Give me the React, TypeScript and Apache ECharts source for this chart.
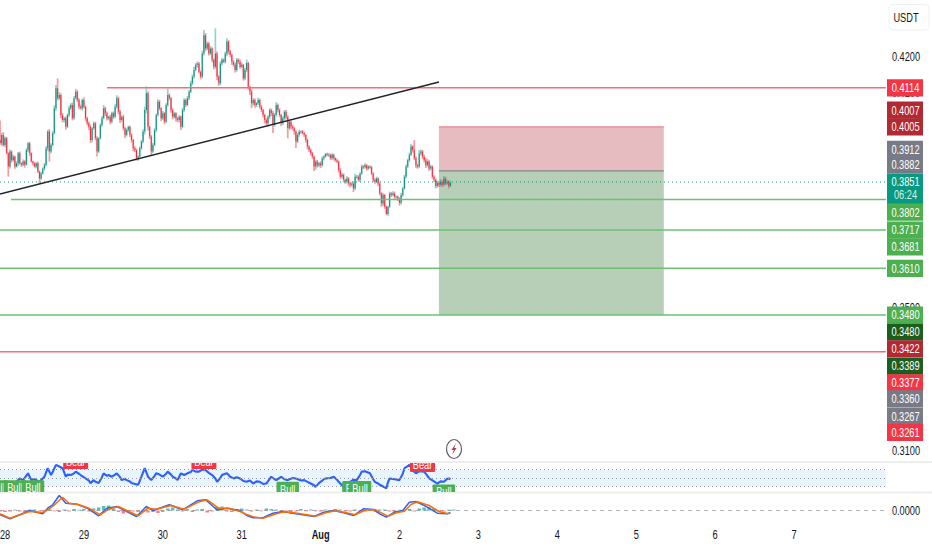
import React, { useEffect, useRef } from "react";
import * as echarts from "echarts";

const FONT = '"Liberation Sans", sans-serif';
const NARROW = 0.77;

const tickLabels = ["28", "29", "30", "31", "Aug", "2", "3", "4", "5", "6", "7"];
const priceTicks = [0.42, 0.41, 0.35, 0.31];
const zeroTicks = [0];

const firstOpen = 0.3968;
const closes = [
  .3959,.3982,.3954,.3973,.3931,.3894,.3936,.3912,.3922,.3894,.3903,.3931,
  .3903,.3899,.3908,.3899,.3940,.3959,.3931,.3908,.3903,.3894,.3903,.3880,
  .3861,.3875,.3889,.3899,.3945,.3992,.3936,.3954,.3987,.4057,.4113,.4085,
  .4094,.4038,.4024,.4029,.4005,.4038,.4057,.4066,.4029,.4085,.4103,.4080,
  .4061,.4057,.4080,.4061,.4029,.4015,.4005,.3968,.4001,.4015,.3973,.3936,
  .3973,.4010,.4029,.4057,.4043,.4029,.4033,.4019,.4043,.4033,.4061,.4085,
  .4047,.4024,.4033,.4001,.3982,.3996,.4005,.3982,.3968,.3945,.3940,.3917,
  .3922,.3945,.3964,.3992,.4052,.4099,.4005,.3978,.3936,.3954,.3996,.4038,
  .4075,.4057,.4029,.4043,.4019,.4066,.4094,.4085,.4052,.4033,.4043,.4029,
  .4024,.4033,.4005,.4052,.4080,.4066,.4085,.4103,.4127,.4145,.4164,.4178,
  .4182,.4159,.4145,.4210,.4261,.4224,.4238,.4210,.4224,.4192,.4173,.4210,
  .4145,.4127,.4182,.4192,.4187,.4210,.4243,.4215,.4206,.4187,.4178,.4164,
  .4192,.4187,.4173,.4178,.4140,.4164,.4183,.4117,.4104,.4071,.4080,.4066,
  .4071,.4080,.4061,.4052,.4038,.4024,.4015,.4033,.4052,.4043,.4010,.4038,
  .4066,.4052,.4038,.4015,.4029,.4047,.4033,.4001,.4019,.4006,.4001,.3992,
  .3964,.3982,.3992,.3992,.3987,.3982,.3968,.3950,.3940,.3931,.3922,.3894,
  .3908,.3898,.3903,.3898,.3917,.3922,.3929,.3927,.3927,.3917,.3927,.3917,
  .3912,.3908,.3884,.3866,.3871,.3857,.3852,.3861,.3847,.3843,.3847,.3833,
  .3866,.3866,.3857,.3875,.3894,.3892,.3898,.3889,.3894,.3892,.3875,.3857,
  .3852,.3861,.3847,.3819,.3791,.3815,.3782,.3762,.3782,.3819,.3815,.3819,
  .3810,.3810,.3805,.3793,.3815,.3833,.3866,.3894,.3912,.3927,.3950,.3940,
  .3917,.3898,.3894,.3931,.3936,.3922,.3912,.3898,.3908,.3889,.3894,.3866,
  .3857,.3840,.3849,.3843,.3852,.3843,.3861,.3847,.3852,.3840,.3849,
];
// wick lengths above / below the candle body, in ten-thousandths of a USDT
const wickUp = [
  55,6,8,5,4,3,6,3,5,2,6,4, 5,3,6,4,5,3,4,3,2,4,3,5, 3,4,3,5,6,4,7,5,6,8,9,27,
  8,5,6,4,5,4,6,5,7,6,8,4, 5,6,4,7,3,4,5,6,3,5,4,6, 3,5,6,9,4,5,3,6,4,5,7,8,
  4,5,3,6,4,5,3,4,5,3,6,4, 3,5,4,6,9,19,5,3,4,6,5,4, 7,5,3,6,4,5,18,4,3,5,4,3,
  4,5,3,6,5,4,6,5,7,6,8,5, 6,4,3,7,14,6,5,4,7,3,4,70, 5,4,6,5,4,5,9,4,5,3,4,6,
  5,4,6,7,3,5,10,4,3,5,5,4, 3,6,4,5,3,4,5,4,5,4,7,6, 8,4,5,3,6,5,5,4,6,3,5,4,
  3,6,5,3,4,5,3,4,3,5,4,3, 4,5,3,6,5,4,3,4,5,3,4,3, 3,4,3,6,5,4,3,6,4,5,3,6,
  8,5,4,3,6,4,5,3,4,3,4,3, 4,5,3,3,4,5,3,3,2,5,4,6, 5,4,3,3,5,4,5,6,4,6,8,4,
  28,5,4,9,6,4,5,6,7,4,5,3, 4,3,6,5,8,4,7,5,6,4,5,
];
const wickDown = [
  5,8,4,6,3,28,5,7,4,6,3,8, 4,6,3,8,2,5,7,3,6,3,5,4, 15,4,3,6,5,8,28,5,4,3,7,6,
  5,9,6,7,8,3,5,4,6,4,3,6, 6,4,7,5,8,6,9,8,5,4,6,14, 4,3,5,3,8,6,5,7,4,6,3,5,
  7,8,5,6,9,4,5,6,7,8,5,6, 7,3,4,5,8,9,10,7,12,5,3,6, 4,6,8,5,7,3,5,6,8,7,5,9,
  6,7,9,4,5,6,3,5,4,6,5,4, 8,5,7,4,6,8,5,6,5,7,8,6, 10,8,5,6,4,5,7,8,6,9,5,7,
  5,7,6,4,6,5,6,8,10,14,7,8, 6,4,5,6,7,9,5,10,6,8,22,5, 4,7,6,8,5,6,7,28,5,7,6,9,
  18,4,5,6,3,5,7,8,5,6,7,12, 9,7,5,8,4,5,3,4,6,5,4,6, 5,4,7,6,5,7,6,5,8,7,5,10,
  4,6,5,6,4,5,3,6,5,4,5,6, 6,4,8,6,9,7,6,4,5,3,6,4, 6,5,7,8,4,5,3,5,4,5,3,7,
  5,8,6,4,5,7,6,8,5,7,5,6, 6,7,5,6,5,6,4,5,4,7,3,
];

const rsiBars = [0,2,4,7,10,12,14,17,19,21,24,27,29,31,32,34,36,38,40,41,43,45,46,48,49,52,54,55,57,58,60,62,63,65,66,68,70,71,73,74,76,77,79,80,82,84,86,88,90,91,92,94,95,97,99,101,102,104,105,107,108,110,112,114,116,117,119,121,123,125,127,129,131,132,134,135,137,138,140,142,144,146,148,150,152,154,156,158,160,162,164,165,167,168,170,171,173,175,178,180,183,185,187,189,191,192,194,195,197,198,201,203,205,206,208,209,211,213,215,217,219,220,222,225,227,228,230,231,233,235,236,237,240,243,245,246,248,249,251,253,255,258,260,261,264,266,268,270,272,273,274];
const rsiValues = [41,37,41,39,41,49,45,61,45,47,41,53,73,57,64,81,77,73,53,58,57,61,65,60,57,49,44,38,45,41,38,52,61,55,57,53,58,61,52,45,48,45,42,38,36,34,53,73,53,49,45,55,61,58,53,60,65,58,53,49,45,61,57,61,64,69,65,65,70,69,62,57,49,41,50,57,60,61,53,49,52,49,43,41,44,37,42,41,36,37,48,53,47,45,50,53,47,45,50,49,44,45,41,37,33,29,38,41,47,49,50,53,46,41,33,29,38,41,46,45,57,65,66,61,47,41,37,34,30,26,40,49,47,45,60,73,78,81,68,61,66,65,55,49,42,37,42,41,48,49,47];

const macdBars = [0,6,12,18,26,29,32,36,40,47,53,60,65,71,76,83,89,93,103,111,120,125,132,138,146,150,154,160,166,172,180,191,197,203,209,215,221,227,231,235,240,245,249,253,260,266,272,274];
const macdValues = [-4.3,-8.3,-4.3,0,-3.3,2.3,5.7,15,7.3,6.3,2.3,-5.3,2.3,4,0,-6,4,0,5.7,0.7,9.7,10.7,0.7,2.3,0,-5,-7.3,-7.3,-2.7,-1,-3.3,-6,-1.7,0,-2.3,-5,1.7,1,-3.3,-6.7,-1.7,0,8.3,9,3.3,-2.7,-3.3,-2.3];
const signalBars = [0,6,12,18,26,29,32,38,42,48,54,61,66,72,77,84,90,95,104,112,121,126,133,139,146,150,154,160,167,173,181,192,198,204,210,216,222,228,232,236,241,246,250,254,261,267,272,274];
const signalValues = [-3.3,-7.7,-4.3,-1,-2,0.7,4,13.3,7.3,5.7,2.3,-4.3,1.3,4,0,-5.3,2.3,1.3,5,1.3,8.7,10.7,2.3,2.3,-1,-4,-6.3,-7.7,-3.7,-1.3,-2.7,-5.7,-2.3,-0.3,-2,-4.3,0.3,1,-2.3,-5.7,-2.3,-0.7,6,8.7,5,-1,-3,-2.7];
// one histogram value for every third bar
const histValues = [-1,-1.5,-1,0.8,-1,-1.5,0.8,1,-0.8,-1,1,-0.8,-1.5,1,-1,1.5,0.8,1.5,-1,2,3,4.5,5,2,-1.5,-3,-2,-1,-1.5,-1,-2,-1.5,-2.5,-1.5,2,3,1,-1,1.5,-1.5,1,1.5,-2,-1,3.5,4,-1,-1.5,1.5,2,1,-1,1,-0.8,2,1.5,1,-1,-1.5,-3,-1,1.5,-0.8,1,-0.8,-1,1,-1,1.5,1,-1,-1,1,-0.8,-1,1,-0.8,1,1,-1,-1.5,0.8,1,1.5,-1,2,3,3,2,-1,-1,0.8,1];

const signalKinds = ["Bull","Bull","Bull","Bear","Bear","Bull","Bull","Bull","Bear","Bull"];
const signalBarsAt = [-2,9,20,46,124,175,215,219,257,270];
const signalLevels = [45,45,45,71,71,41,43,43,64,35];

const levelPrices = { resistance: 0.4114, stop: 0.4005, entry: 0.3882, last: 0.3851, tp1: 0.3802, tp2: 0.3717, tp3: 0.361, tp4: 0.348, floor: 0.3377 };
const trendDays = [-0.0634, 5.5];
const trendPrices = [0.38175, 0.41302];
const boxDays = [5.5, 8.35];

const tagValues = [0.4114,0.4007,0.4005,0.3912,0.3882,0.3851,0.3802,0.3717,0.3681,0.361,0.348,0.348,0.3422,0.3389,0.3377,0.336,0.3267,0.3261];
const tagColors = ["#f23645","#b22833","#b22833","#787b86","#787b86","#089981","#4caf50","#4caf50","#4caf50","#4caf50","#4caf50","#1b5e20","#b22833","#1b5e20","#f23645","#787b86","#787b86","#f23645"];
// tags are pushed apart by the price scale so that they do not overlap
const tagNudges = [0,-16,0,-11,-6,0,12.5,0,4,0,0,17,13,18.5,31,41,25,39];
const countdown = "06:24";

const xMin = -0.0634;
const xMax = 11.166;
const barDay = (i: number) => -0.0625 + i / 48;

const narrowText = (x: number, y: number, text: string, fill: string, fontSize = 12, fontWeight: any = "normal") => ({
  type: "text", x, y, scaleX: NARROW,
  style: { x: 0, y: 0, text, fontSize, fontWeight, fontFamily: FONT, fill, align: "center", verticalAlign: "middle" },
});

function App() {
  const ref = useRef<HTMLDivElement>(null);
  useEffect(() => {
    document.body.style.margin = "0";
    const chart = echarts.init(ref.current!, undefined, { renderer: "svg" });
    const candles = closes.map((c, i) => {
      const o = i === 0 ? firstOpen : closes[i - 1];
      return [barDay(i), o, c, Math.max(o, c) + wickUp[i] / 10000, Math.min(o, c) - wickDown[i] / 10000];
    });
    const level = (name: string, from: number, to: number, p: number, color: string, type: any = "solid", width = 1.5) => ({
      name, type: "line", xAxisIndex: 0, yAxisIndex: 0, symbol: "none", silent: true, z: 3,
      data: [[from, p], [to, p]], lineStyle: { color, width, type },
    });
    const option: any = {
      animation: false,
      backgroundColor: "#ffffff",
      textStyle: { fontFamily: FONT },
      grid: [
        { left: 0, top: 0, width: 886, height: 462 },
        { left: 0, top: 463, width: 886, height: 29 },
        { left: 0, top: 493, width: 886, height: 30 },
      ],
      xAxis: [0, 1, 2].map((g) => ({
        type: "value", gridIndex: g, min: xMin, max: xMax, show: false, splitLine: { show: false },
      })),
      yAxis: [
        { type: "value", gridIndex: 0, position: "right", min: 0.30693, max: 0.43591, show: false, splitLine: { show: false } },
        { type: "value", gridIndex: 1, position: "right", min: 17.06, max: 85.3, show: false, splitLine: { show: false } },
        { type: "value", gridIndex: 2, position: "right", min: -12.5, max: 17.5, show: false, splitLine: { show: false } },
      ],
      graphic: [
        { type: "line", shape: { x1: 0, y1: 462, x2: 932, y2: 462 }, style: { stroke: "#eceded", lineWidth: 2 } },
        { type: "line", shape: { x1: 0, y1: 492.5, x2: 932, y2: 492.5 }, style: { stroke: "#eceded", lineWidth: 2 } },
        { type: "rect", shape: { x: 889, y: 4.5, width: 40, height: 25.5, r: 4 }, style: { fill: "#fff", stroke: "#eef0f3", lineWidth: 1 } },
        { type: "text", x: 906, y: 17.5, scaleX: NARROW, style: { x: 0, y: 0, text: "USDT", fontSize: 12, fontFamily: FONT, fill: "#131722", align: "center", verticalAlign: "middle" } },
        { type: "ellipse", shape: { cx: 454, cy: 449, rx: 7.5, ry: 9.5 }, style: { fill: "#fff", stroke: "#6b5a66", lineWidth: 1.2 } },
        { type: "polygon", shape: { points: [[456,443],[451.5,450],[453.8,450],[452,455],[456.5,448],[454.2,448]] }, style: { fill: "#a8404e" } },
      ],
      series: [
        {
          name: "box", type: "line", xAxisIndex: 0, yAxisIndex: 0, data: [], silent: true, z: 1,
          markArea: {
            silent: true,
            data: [
              [{ coord: [boxDays[0], levelPrices.stop], itemStyle: { color: "rgba(172,32,45,0.3)" } }, { coord: [boxDays[1], levelPrices.entry] }],
              [{ coord: [boxDays[0], levelPrices.entry], itemStyle: { color: "rgba(15,95,15,0.3)" } }, { coord: [boxDays[1], levelPrices.tp4] }],
            ],
          },
        },
        level("last", xMin, xMax, levelPrices.last, "#089981", [1, 3], 1),
        level("resistance", 1.293, xMax, levelPrices.resistance, "#f26f79"),
        level("tp1", 0.076, xMax, levelPrices.tp1, "#6cc070"),
        level("tp2", xMin, xMax, levelPrices.tp2, "#6cc070"),
        level("tp3", xMin, xMax, levelPrices.tp3, "#6cc070"),
        level("tp4", xMin, xMax, levelPrices.tp4, "#6cc070"),
        level("floor", xMin, xMax, levelPrices.floor, "#f26f79"),
        level("stop", boxDays[0], boxDays[1], levelPrices.stop, "#e58a92", "solid", 1.2),
        level("entry", boxDays[0], boxDays[1], levelPrices.entry, "#7f8a8a", "solid", 1.2),
        {
          name: "trend", type: "line", xAxisIndex: 0, yAxisIndex: 0, symbol: "none", silent: true, z: 4,
          data: trendDays.map((d, i) => [d, trendPrices[i]]), lineStyle: { color: "#22242c", width: 1.4 },
        },
        {
          name: "candles", type: "custom", xAxisIndex: 0, yAxisIndex: 0, z: 3, silent: true, clip: true,
          data: candles, encode: { x: 0, y: [1, 2, 3, 4] },
          renderItem: (_p: any, api: any) => {
            const t = api.value(0), o = api.value(1), c = api.value(2), h = api.value(3), l = api.value(4);
            const top = api.coord([t, Math.max(o, c)]);
            const bot = api.coord([t, Math.min(o, c)]);
            const hi = api.coord([t, h]);
            const lo = api.coord([t, l]);
            const up = c >= o;
            const solid = up ? "#0c8a76" : "#ef2c3e";
            const pale = up ? "rgba(38,166,154,0.5)" : "rgba(242,54,69,0.5)";
            return {
              type: "group",
              children: [
                { type: "line", shape: { x1: top[0], y1: hi[1], x2: top[0], y2: lo[1] }, style: { stroke: pale, lineWidth: 1.7 } },
                { type: "rect", shape: { x: top[0] - 0.5, y: top[1], width: 1, height: Math.max(0.8, bot[1] - top[1]) }, style: { fill: solid } },
              ],
            };
          },
        },
        {
          name: "rsi", type: "line", xAxisIndex: 1, yAxisIndex: 1, symbol: "none", silent: true, z: 4,
          data: rsiBars.map((b, i) => [barDay(b), rsiValues[i]]), lineStyle: { color: "#2962ff", width: 2.1 },
          markArea: { silent: true, itemStyle: { color: "rgba(33,150,243,0.1)" }, data: [[{ coord: [xMin, 70] }, { coord: [xMax, 30] }]] },
          markLine: {
            silent: true, symbol: "none", label: { show: false },
            data: [{ yAxis: 70 }, { yAxis: 50 }, { yAxis: 30 }],
            lineStyle: { color: "#9598a1", type: [1, 3], width: 1 },
          },
        },
        {
          name: "signals", type: "custom", xAxisIndex: 1, yAxisIndex: 1, z: 5, silent: true, clip: true,
          data: signalBarsAt.map((b, i) => [barDay(b), signalLevels[i]]), encode: { x: 0, y: 1 },
          renderItem: (p: any, api: any) => {
            const pt = api.coord([api.value(0), api.value(1)]);
            const bull = signalKinds[p.dataIndex] === "Bull";
            const y = bull ? pt[1] : pt[1] - 15;
            const w = bull ? 22.5 : 25;
            return {
              type: "group",
              children: [
                { type: "rect", shape: { x: pt[0] - w / 2, y, width: w, height: 15, r: 1 }, style: { fill: bull ? "#4caf50" : "#f23645" } },
                narrowText(pt[0], y + 7.5, signalKinds[p.dataIndex], "#fff", 12),
              ],
            };
          },
        },
        {
          name: "zero", type: "line", xAxisIndex: 2, yAxisIndex: 2, symbol: "none", silent: true, z: 1,
          data: [[xMin, 0], [xMax, 0]], lineStyle: { color: "#b2b5be", width: 1, type: [4, 4] },
        },
        {
          name: "hist", type: "bar", xAxisIndex: 2, yAxisIndex: 2, barWidth: 3.5, silent: true, z: 2,
          data: histValues.map((v, i) => ({
            value: [barDay(i * 3), v],
            itemStyle: { color: v >= 0 ? "rgba(38,166,154,0.75)" : "rgba(255,82,82,0.75)" },
          })),
        },
        {
          name: "macd", type: "line", xAxisIndex: 2, yAxisIndex: 2, symbol: "none", silent: true, z: 3,
          data: macdBars.map((b, i) => [barDay(b), macdValues[i]]), lineStyle: { color: "#2962ff", width: 1.5 },
        },
        {
          name: "signal", type: "line", xAxisIndex: 2, yAxisIndex: 2, symbol: "none", silent: true, z: 4,
          data: signalBars.map((b, i) => [barDay(b), signalValues[i]]), lineStyle: { color: "#ff6d00", width: 1.5 },
        },
        {
          name: "timeTicks", type: "custom", xAxisIndex: 2, yAxisIndex: 2, z: 6, silent: true, clip: false,
          data: tickLabels.map((_, i) => [i, -12.5]), encode: { x: 0, y: 1 },
          renderItem: (p: any, api: any) => {
            const pt = api.coord([api.value(0), api.value(1)]);
            const t = tickLabels[p.dataIndex];
            return narrowText(pt[0], pt[1] + 12, t, "#131722", 12, t === "Aug" ? "bold" : "normal");
          },
        },
        {
          name: "priceTicks", type: "custom", xAxisIndex: 0, yAxisIndex: 0, z: 2, silent: true, clip: false,
          data: priceTicks.map((v) => [xMin, v]), encode: { x: 0, y: 1 },
          renderItem: (p: any, api: any) => {
            const pt = api.coord([xMin, priceTicks[p.dataIndex]]);
            return narrowText(906, pt[1], priceTicks[p.dataIndex].toFixed(4), "#131722");
          },
        },
        {
          name: "zeroTick", type: "custom", xAxisIndex: 2, yAxisIndex: 2, z: 6, silent: true, clip: false,
          data: zeroTicks.map((v) => [xMin, v]), encode: { x: 0, y: 1 },
          renderItem: (p: any, api: any) => {
            const pt = api.coord([xMin, zeroTicks[p.dataIndex]]);
            return narrowText(906, pt[1], zeroTicks[p.dataIndex].toFixed(4), "#131722");
          },
        },
        {
          name: "tags", type: "custom", xAxisIndex: 0, yAxisIndex: 0, z: 10, silent: true, clip: false,
          data: tagValues.map((v) => [xMin, v]), encode: { x: 0, y: 1 },
          renderItem: (p: any, api: any) => {
            const i = p.dataIndex;
            const y = api.coord([xMin, tagValues[i]])[1] + tagNudges[i];
            const hasTimer = tagValues[i] === levelPrices.last;
            const children: any[] = [
              { type: "rect", shape: { x: 887, y: y - 8.5, width: 36, height: hasTimer ? 30.5 : 17.2 }, style: { fill: tagColors[i] } },
              narrowText(905.5, y, tagValues[i].toFixed(4), "#fff"),
            ];
            if (hasTimer) children.push(narrowText(905.5, y + 13, countdown, "#d5efe9"));
            return { type: "group", children };
          },
        },
      ],
    };
    chart.setOption(option);
    return () => chart.dispose();
  }, []);
  return <div ref={ref} style={{ width: 932, height: 550 }} />;
}

export default App;
